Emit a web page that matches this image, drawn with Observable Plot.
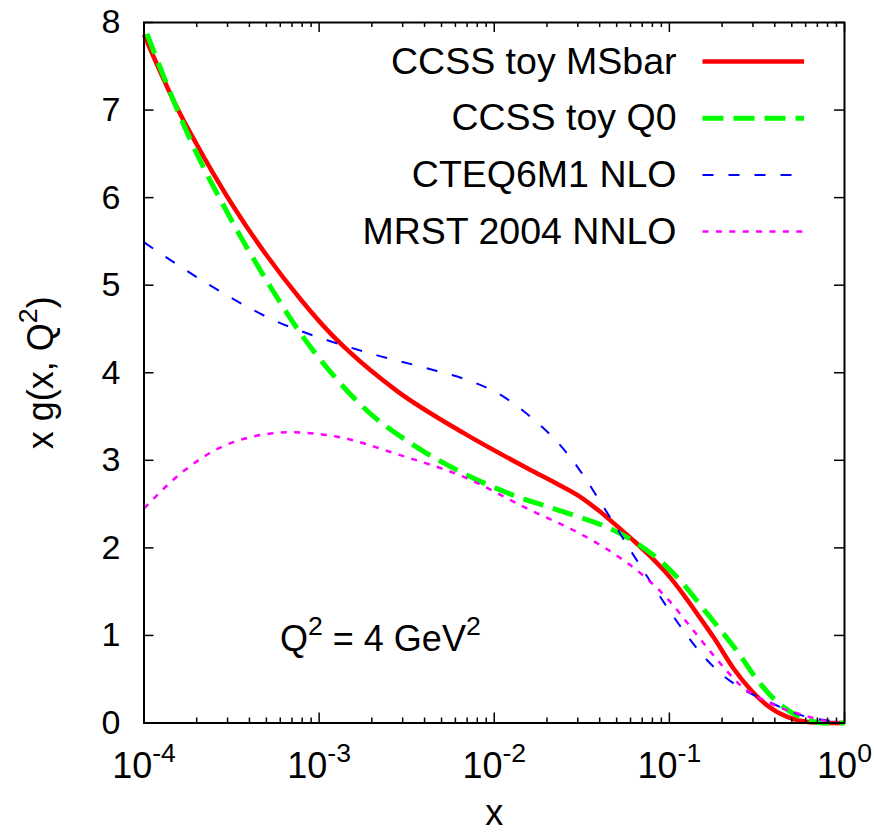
<!DOCTYPE html>
<html>
<head>
<meta charset="utf-8">
<script src="https://cdn.jsdelivr.net/npm/d3@7"></script>
<script src="https://cdn.jsdelivr.net/npm/@observablehq/plot@0.6"></script>
<style>
  html, body { margin: 0; padding: 0; background: #fff; }
  #chart { width: 874px; height: 832px; }
</style>
</head>
<body>
<div id="chart"></div>
<script>
// ---------- data ----------
const msbarX = [1.00e-4, 1.55e-4, 2.20e-4, 3.26e-4, 5.06e-4, 7.83e-4, 1.16e-3, 1.45e-3, 2.79e-3, 6.70e-3, 0.0161, 0.0224, 0.0311, 0.0398, 0.0482, 0.0627, 0.0782, 0.0973, 0.121, 0.138, 0.180, 0.233, 0.291, 0.362, 0.471, 0.614, 0.794, 1.0];
const msbarY = [7.86, 7.02, 6.46, 5.89, 5.33, 4.84, 4.45, 4.26, 3.79, 3.31, 2.89, 2.74, 2.58, 2.42, 2.28, 2.08, 1.90, 1.70, 1.46, 1.30, 0.97, 0.62, 0.38, 0.20, 0.07, 0.012, 0.0, 0.0];

const q0X = [1.04e-4, 1.24e-4, 1.85e-4, 2.99e-4, 5.51e-4, 7.83e-4, 1.16e-3, 1.80e-3, 3.48e-3, 6.70e-3, 0.0129, 0.0250, 0.0482, 0.0655, 0.0912, 0.121, 0.157, 0.200, 0.250, 0.310, 0.404, 0.562, 0.759, 1.0];
const q0Y = [7.87, 7.48, 6.65, 5.83, 4.92, 4.45, 4.01, 3.60, 3.17, 2.85, 2.60, 2.41, 2.20, 2.05, 1.83, 1.58, 1.30, 1.04, 0.79, 0.52, 0.257, 0.066, 0.0, 0.0];

const cteqX = [1.00e-4, 2.29e-4, 5.51e-4, 1.16e-3, 2.05e-3, 3.96e-3, 7.64e-3, 0.0104, 0.0135, 0.0176, 0.0229, 0.0285, 0.0340, 0.0405, 0.0482, 0.0575, 0.0685, 0.0973, 0.126, 0.151, 0.188, 0.255, 0.362, 0.562, 0.871, 1.0];
const cteqY = [5.49, 5.02, 4.60, 4.36, 4.21, 4.06, 3.89, 3.77, 3.62, 3.43, 3.21, 2.98, 2.76, 2.52, 2.28, 2.03, 1.79, 1.32, 1.00, 0.80, 0.60, 0.40, 0.25, 0.09, 0.02, 0.01];

const mrstX = [1.00e-4, 1.69e-4, 3.26e-4, 6.87e-4, 1.27e-3, 2.79e-3, 6.70e-3, 0.0161, 0.0311, 0.0550, 0.0685, 0.0973, 0.138, 0.188, 0.255, 0.362, 0.562, 0.798, 1.0];
const mrstY = [2.45, 2.88, 3.21, 3.32, 3.27, 3.07, 2.81, 2.43, 2.16, 1.856, 1.71, 1.42, 1.05, 0.72, 0.43, 0.24, 0.10, 0.02, 0.0];

const seriesNames = ["CCSS toy MSbar", "CCSS toy Q0", "CTEQ6M1 NLO", "MRST 2004 NNLO"];

const xTickValues = [1e-4, 1e-3, 1e-2, 1e-1, 1];
const xTickLabels = ["10^{-4}", "10^{-3}", "10^{-2}", "10^{-1}", "10^{0}"];
const yTickValues = [0, 1, 2, 3, 4, 5, 6, 7, 8];
const yTickLabels = ["0", "1", "2", "3", "4", "5", "6", "7", "8"];
const xMinorTicks = [];
for (const dec of [1e-4, 1e-3, 1e-2, 1e-1]) for (const m of [2, 3, 4, 5, 6, 7, 8, 9]) xMinorTicks.push(m * dec);

const xLabel = "x";
const yLabel = "x g(x, Q^{2})";
const annotation = "Q^{2} = 4 GeV^{2}";

// ---------- styles ----------
const styles = [
  {stroke: "#ff0000", strokeWidth: 4.5, dash: null},
  {stroke: "#00ff00", strokeWidth: 5, dash: "21,10"},
  {stroke: "#0000ff", strokeWidth: 2, dash: "11,15"},
  {stroke: "#ff00ff", strokeWidth: 2.5, dash: "6,7.4"}
];
const FONT = "'Liberation Sans', Arial, Helvetica, sans-serif";
const W = 874, H = 832;
const mL = 143.5, mR = 30, mT = 22, mB = 109.5;
const fw = W - mL - mR, fh = H - mT - mB;
const major = 10, minor = 5;

const seriesX = [msbarX, q0X, cteqX, mrstX];
const seriesY = [msbarY, q0Y, cteqY, mrstY];
const tables = seriesX.map((xs, i) => xs.map((x, j) => ({x, y: seriesY[i][j]})));

const lineShape = {draw(ctx, l) { ctx.moveTo(0, 0); ctx.lineTo(0, -l); }};

const marks = [];
// curves
tables.forEach((t, i) => {
  marks.push(Plot.line(t, {
    x: "x", y: "y", curve: "monotone-x",
    stroke: styles[i].stroke, strokeWidth: styles[i].strokeWidth,
    strokeDasharray: styles[i].dash, strokeLinecap: "butt", strokeLinejoin: "round"
  }));
});
// frame and ticks
marks.push(Plot.frame({stroke: "black", strokeWidth: 2}));
marks.push(Plot.ruleX(xTickValues, {x: d => d, insetTop: fh - major, strokeWidth: 1.5}));
marks.push(Plot.ruleX(xTickValues, {x: d => d, insetBottom: fh - major, strokeWidth: 1.5}));
marks.push(Plot.ruleX(xMinorTicks, {x: d => d, insetTop: fh - minor, strokeWidth: 1.5}));
marks.push(Plot.ruleX(xMinorTicks, {x: d => d, insetBottom: fh - minor, strokeWidth: 1.5}));
marks.push(Plot.ruleY(yTickValues, {y: d => d, insetRight: fw - major, strokeWidth: 1.5}));
marks.push(Plot.ruleY(yTickValues, {y: d => d, insetLeft: fw - major, strokeWidth: 1.5}));
// tick labels
marks.push(Plot.text(xTickValues, {x: d => d, text: (d, i) => xTickLabels[i], frameAnchor: "bottom", dy: 43, fontSize: 36, textAnchor: "middle", lineAnchor: "middle"}));
marks.push(Plot.text(yTickValues, {y: d => d, text: (d, i) => yTickLabels[i], frameAnchor: "left", dx: -23.5, textAnchor: "end", fontSize: 34, lineAnchor: "middle"}));
// axis titles
marks.push(Plot.text([xLabel], {text: d => d, frameAnchor: "bottom", dy: 90, fontSize: 36, textAnchor: "middle", lineAnchor: "middle"}));
marks.push(Plot.text([yLabel], {text: d => d, frameAnchor: "left", dx: -103, rotate: -90, fontSize: 36, textAnchor: "middle", lineAnchor: "middle"}));
// annotation
marks.push(Plot.text([annotation], {text: d => d, frameAnchor: "bottom-left", dx: 136, dy: -84, textAnchor: "start", fontSize: 36, lineAnchor: "middle"}));
// legend
seriesNames.forEach((name, i) => {
  const rowDy = 39 + i * 56.7;
  marks.push(Plot.text([name], {text: d => d, frameAnchor: "top-right", dx: -168, dy: rowDy, textAnchor: "end", fontSize: 37.5, lineAnchor: "middle"}));
  marks.push(Plot.vector([name], {
    frameAnchor: "top-left", dx: 558.5, dy: rowDy, length: 101.6, rotate: 90, anchor: "start",
    shape: lineShape, stroke: styles[i].stroke, strokeWidth: styles[i].strokeWidth,
    strokeDasharray: styles[i].dash, fill: "none", strokeLinecap: "butt"
  }));
});

const chart = Plot.plot({
  width: W, height: H,
  marginLeft: mL, marginRight: mR, marginTop: mT, marginBottom: mB,
  x: {type: "log", domain: [1e-4, 1], axis: null},
  y: {domain: [0, 8], axis: null},
  style: {fontFamily: FONT, background: "#fff", color: "black", overflow: "visible"},
  marks
});
document.getElementById("chart").appendChild(chart);

// superscripts: "^{...}" rendered as raised smaller tspans
const NS = "http://www.w3.org/2000/svg";
chart.querySelectorAll("text").forEach(t => {
  const s = t.textContent;
  if (!s.includes("^{")) return;
  const base = parseFloat(getComputedStyle(t).fontSize) || 36;
  const raise = base * 0.42;
  const parts = s.split(/(\^\{[^}]*\})/).filter(p => p.length);
  t.textContent = "";
  let raised = false;
  for (const p of parts) {
    const ts = document.createElementNS(NS, "tspan");
    if (p.startsWith("^{")) {
      ts.textContent = p.slice(2, -1);
      ts.setAttribute("font-size", (base * 0.74).toFixed(1));
      ts.setAttribute("dy", (-raise).toFixed(1));
      raised = true;
    } else {
      ts.textContent = p;
      if (raised) { ts.setAttribute("dy", raise.toFixed(1)); raised = false; }
    }
    t.appendChild(ts);
  }
});
</script>
</body>
</html>
